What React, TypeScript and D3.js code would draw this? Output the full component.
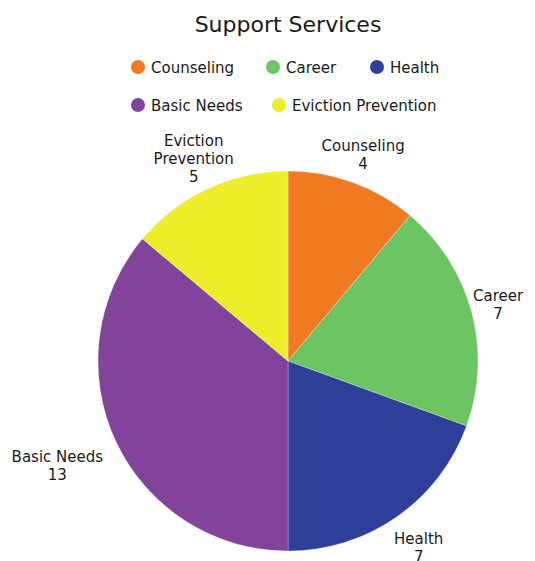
import React from "react";
import * as d3 from "d3";

const categories = ["Counseling", "Career", "Health", "Basic Needs", "Eviction Prevention"];
const values = [4, 7, 7, 13, 5];
const labelLines = [["Counseling"], ["Career"], ["Health"], ["Basic Needs"], ["Eviction", "Prevention"]];
const colors = ["#f07a22", "#6cc563", "#2e3f9a", "#81449a", "#eded2a"];
const title = "Support Services";

const W = 535;
const H = 561;
const FONT = "'DejaVu Sans', sans-serif";

export default function App() {
  const cx = 288;
  const cy = 361;
  const R = 190;
  const data = categories.map((c, i) => ({ c, v: values[i], color: colors[i], lines: labelLines[i] }));
  const pie = d3.pie<any>().value((d) => d.v).sort(null);
  const arcs = pie(data);
  const arc = d3.arc<any>().innerRadius(0).outerRadius(R);

  const legendRows = [
    [0, 1, 2],
    [3, 4],
  ];
  const legendX = [
    [138, 273, 377],
    [138, 279],
  ];
  const legendY = [67, 105];

  return (
    <svg width={W} height={H} style={{ position: "absolute", left: 0, top: 0, background: "#fff" }}>
      <text x={288} y={32} textAnchor="middle" fontFamily={FONT} fontSize={22} fill="#1a1a1a">
        {title}
      </text>
      {legendRows.map((row, ri) =>
        row.map((idx, k) => (
          <g key={idx} transform={`translate(${legendX[ri][k]},${legendY[ri]})`}>
            <circle r={7} fill={colors[idx]} />
            <text x={13} y={5.5} fontFamily={FONT} fontSize={15} fill="#1a1a1a">
              {categories[idx]}
            </text>
          </g>
        ))
      )}
      <g transform={`translate(${cx},${cy})`}>
        {arcs.map((a, i) => (
          <path key={i} d={arc(a) as string} fill={a.data.color} stroke="#ffffff" strokeOpacity={0.35} strokeWidth={0.8} />
        ))}
        {arcs.map((a, i) => {
          const mid = (a.startAngle + a.endAngle) / 2;
          const lines = [...a.data.lines, String(a.data.v)];
          const hw = d3.max(lines, (l: string) => l.length) * 4.3;
          const r = 205 + hw * Math.abs(Math.sin(mid)) * (i === 1 ? 0.5 : 1) + (i === 2 ? 8 : 0);
          const x = Math.sin(mid) * r - (i === 3 ? 6 : 0);
          const y = -Math.cos(mid) * r;
          const lh = 18;
          const y0 = y - ((lines.length - 1) * lh) / 2 + 5;
          return (
            <text key={"l" + i} textAnchor="middle" fontFamily={FONT} fontSize={15} fill="#1a1a1a">
              {lines.map((l, j) => (
                <tspan key={j} x={x} y={y0 + j * lh}>
                  {l}
                </tspan>
              ))}
            </text>
          );
        })}
      </g>
    </svg>
  );
}
